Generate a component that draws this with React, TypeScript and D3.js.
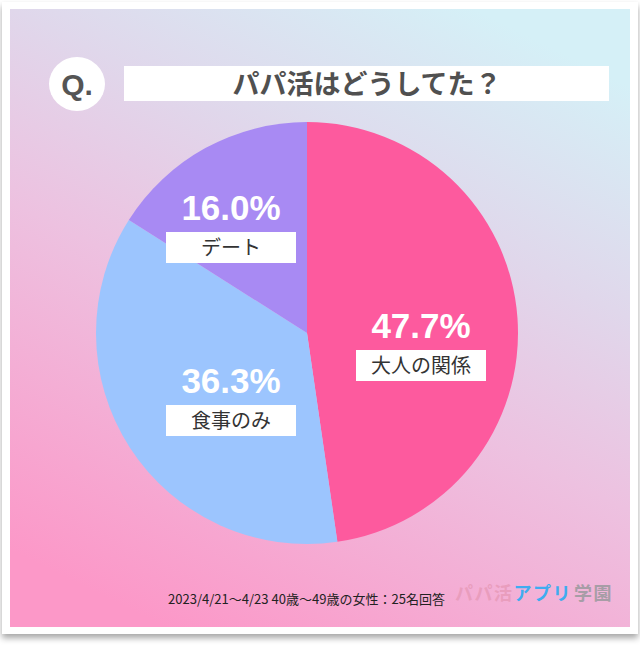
import React from "react";
import * as d3 from "d3";

const categories = ["大人の関係", "食事のみ", "デート"];
const values = [47.7, 36.3, 16.0];
const colors = ["#FD5A9E", "#9CC5FE", "#A88AF3"];
const title = "パパ活はどうしてた？";
const footnote = "2023/4/21～4/23 40歳～49歳の女性：25名回答";

const W = 640, H = 647;
const cx = 307, cy = 333, R = 211;
const labelPos = [
  { x: 421, y: 326 },
  { x: 231, y: 381 },
  { x: 231, y: 208 },
];

export default function App() {
  const pie = d3.pie<number>().sort(null).value((d) => d)(values);
  const arc = d3.arc<d3.PieArcDatum<number>>().innerRadius(0).outerRadius(R);
  const jp = "'Noto Sans CJK JP', 'Noto Sans', sans-serif";
  return (
    <svg width={W} height={H} style={{ position: "absolute", left: 0, top: 0 }} fontFamily={jp}>
      <defs>
        <linearGradient id="bg" x1="0.75" y1="0" x2="0.25" y2="1">
          <stop offset="0" stopColor="#D5F0F7" />
          <stop offset="0.3" stopColor="#E0D7EB" />
          <stop offset="0.55" stopColor="#EDC1E0" />
          <stop offset="1" stopColor="#FC98C8" />
        </linearGradient>
        <filter id="sh" x="-5%" y="-5%" width="110%" height="115%">
          <feDropShadow dx="0" dy="4" stdDeviation="3" floodColor="#000" floodOpacity="0.35" />
        </filter>
      </defs>
      <rect x={0} y={0} width={W} height={H} fill="#fff" />
      <rect x={2} y={2} width={636} height={632} fill="#fff" filter="url(#sh)" />
      <rect x={10} y={9} width={620} height={618} fill="url(#bg)" />
      {/* title */}
      <ellipse cx={77} cy={84} rx={28} ry={27} fill="#fff" />
      <text x={77} y={95} textAnchor="middle" fontSize={30} fontWeight={700} fill="#555" fontFamily="'Liberation Sans', Arial, sans-serif">Q.</text>
      <rect x={124} y={66} width={485} height={35} fill="#fff" />
      <text x={367} y={94} textAnchor="middle" fontSize={27} fontWeight={700} fill="#505050">{title}</text>
      {/* pie */}
      <g transform={`translate(${cx},${cy})`}>
        {pie.map((p, i) => (
          <path key={i} d={arc(p) || ""} fill={colors[i]} />
        ))}
      </g>
      {values.map((v, i) => {
        const lp = labelPos[i];
        return (
          <g key={i}>
            <text x={lp.x} y={lp.y + 12} textAnchor="middle" fontSize={35} fontWeight={700} fill="#fff" fontFamily="'Liberation Sans', Arial, sans-serif">{v.toFixed(1)}%</text>
            <rect x={lp.x - 65} y={lp.y + 24} width={130} height={31} fill="#fff" />
            <text x={lp.x} y={lp.y + 47} textAnchor="middle" fontSize={20} fill="#333">{categories[i]}</text>
          </g>
        );
      })}
      {/* footer */}
      <text x={168} y={604} fontSize={13} fill="#222" textLength={277} lengthAdjust="spacingAndGlyphs">{footnote}</text>
      <text x={455} y={600} fontSize={18} fontWeight={700} letterSpacing={1.5}>
        <tspan fill="#E99DBD">パパ活</tspan>
        <tspan fill="#3FACF0">アプリ</tspan>
        <tspan fill="#A79DA6" dx={2}>学園</tspan>
      </text>
    </svg>
  );
}
